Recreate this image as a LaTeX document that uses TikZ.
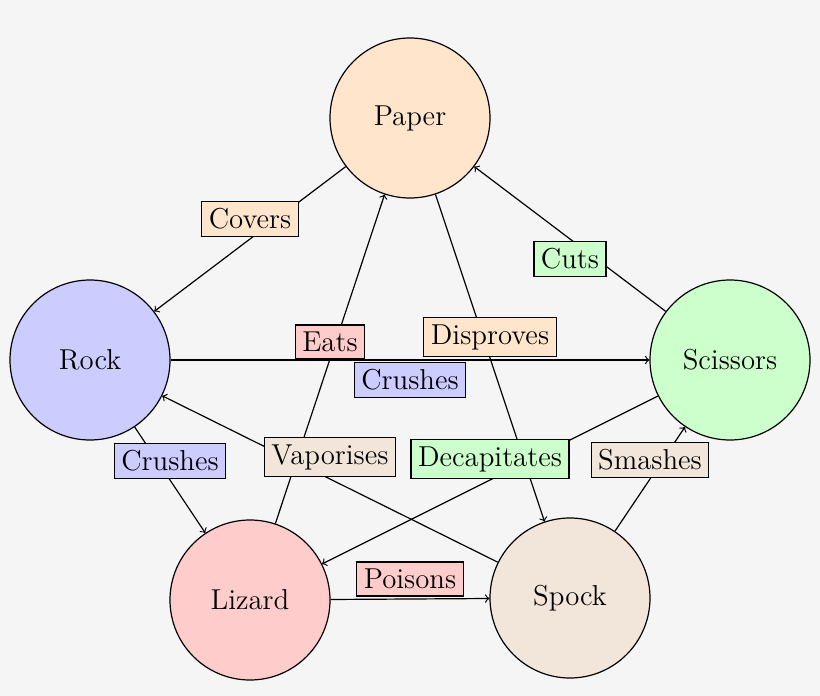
\documentclass[tikz,border=0pt]{standalone}
\begin{document}
\begin{tikzpicture}[x=0.5pt,y=-0.5pt,
  every node/.style={font=\Large},
  st/.style={circle,draw,line width=0.6pt,minimum size=80pt,inner sep=0pt},
  lb/.style={draw,line width=0.6pt,inner sep=3.5pt,fill=#1},
  ed/.style={->,line width=0.6pt}]
\fill[black!4] (0,0) rectangle (820,696);
\useasboundingbox (0,0) rectangle (820,696);
\node[st,fill=orange!20] (paper) at (410,118) {Paper};
\node[st,fill=blue!20] (rock) at (90,360) {Rock};
\node[st,fill=green!20] (sci) at (730,360) {Scissors};
\node[st,fill=red!20] (liz) at (250,600) {Lizard};
\node[st,fill=brown!20] (spock) at (570,598) {Spock};
\draw[ed] (paper) -- coordinate[pos=.5] (m1) (rock);
\draw[ed] (sci) -- coordinate[pos=.5] (m2) (paper);
\draw[ed] (rock) -- coordinate[pos=.5] (m3) (sci);
\draw[ed] (liz) -- coordinate[pos=.5] (m4) (paper);
\draw[ed] (paper) -- coordinate[pos=.5] (m5) (spock);
\draw[ed] (sci) -- coordinate[pos=.5] (m6) (liz);
\draw[ed] (spock) -- coordinate[pos=.5] (m7) (rock);
\draw[ed] (rock) -- coordinate[pos=.5] (m8) (liz);
\draw[ed] (liz) -- coordinate[pos=.5] (m9) (spock);
\draw[ed] (spock) -- coordinate[pos=.5] (m10) (sci);
\node[lb=orange!20] (l1) at ([yshift=10pt]m1) {Covers};
\node[lb=green!20] (l2) at ([yshift=-10pt]m2) {Cuts};
\node[lb=blue!20] (l3) at ([yshift=-10pt]m3) {Crushes};
\node[lb=red!20] (l4) at ([yshift=8.5pt]m4) {Eats};
\node[lb=orange!20] (l5) at ([yshift=10.5pt]m5) {Disproves};
\node[lb=green!20] (l6) at ([yshift=10.5pt]m6) {Decapitates};
\node[lb=brown!20] (l7) at ([yshift=11pt]m7) {Vaporises};
\node[lb=blue!20] (l8) at ([yshift=9.5pt]m8) {Crushes};
\node[lb=red!20] (l9) at ([yshift=10pt]m9) {Poisons};
\node[lb=brown!20] (l10) at ([yshift=9.5pt]m10) {Smashes};
\end{tikzpicture}
\end{document}
